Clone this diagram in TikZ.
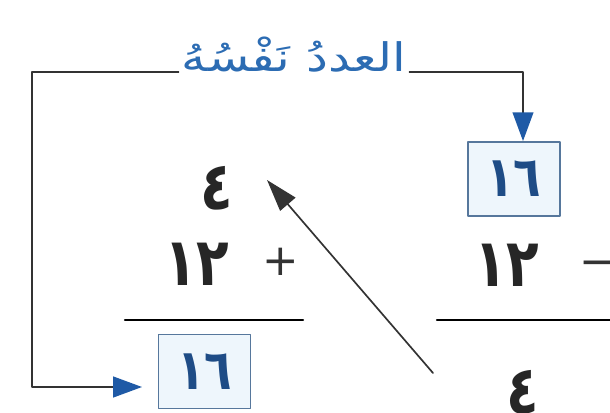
\documentclass[tikz,border=0pt]{standalone}
\usepackage{fontspec}
\usetikzlibrary{arrows.meta}
\newfontfamily\arabicfont[Script=Arabic]{DejaVu Sans}
\TeXXeTstate=1
\definecolor{LoopBlue}{HTML}{1F5AA6}
\definecolor{LabelBlue}{HTML}{2C6CB3}
\definecolor{BoxEdge}{HTML}{56779C}
\definecolor{BoxFill}{HTML}{EEF6FC}
\definecolor{DigitBlue}{HTML}{1E4C86}
\definecolor{LineGrey}{HTML}{333333}
\newcommand{\tallnum}[1]{\scalebox{1}[1.25]{#1}}

\begin{document}
\begin{tikzpicture}[x=0.025cm,y=-0.025cm,line cap=round,line join=round,
  digit/.style={font=\arabicfont\bfseries\fontsize{38}{44}\selectfont,text=black!85,inner sep=0pt},
  sign/.style={font=\arabicfont\fontsize{31}{36}\selectfont,text=black!80,inner sep=0pt},
  numbox/.style={draw=BoxEdge,fill=BoxFill,line width=1.3pt,minimum width=2.3cm,minimum height=1.85cm,
    text=DigitBlue,font=\arabicfont\bfseries\fontsize{32}{36}\selectfont,inner sep=0pt},
  loop/.style={LineGrey,line width=1.2pt,-{Triangle[length=0.72cm,width=0.52cm,color=LoopBlue]}}]
  \useasboundingbox (0,0) rectangle (610,413);
  % label and the two boxes
  \node[anchor=base,text=LabelBlue,font=\arabicfont\fontsize{28}{32}\selectfont,inner sep=2pt] (same) at (294,72) {\scalebox{1.25}[1]{\beginR العددُ نَفْسُهُ\endR}};
  \node[numbox] (topbox) at (514,179) {\tallnum{١٦}};
  \node[numbox] (sumbox) at (204.5,371.5) {\tallnum{١٦}};
  \coordinate (tr) at (523,72);\coordinate (tl) at (32,72);\coordinate (bl) at (32,387);\coordinate (lin) at (142,387);
  \draw[loop] (same.base east) -- (tr) -- (tr |- topbox.north);
  \draw[loop] (same.base west) -- (tl) -- (bl) -- (lin);
  % left sum
  \node[digit] (lfour) at (217,188) {\tallnum{٤}};
  \node[digit] (ltwelve) at (197,264) {\tallnum{١٢}};
  \node[sign] (plus) at (281,262) {+};
  \coordinate (lr1) at (125,320);\coordinate (lr2) at (303,320);
  \draw[line width=1.6pt] (lr1) -- (lr2);
  % right difference
  \node[digit] (rtwelve) at (507,265) {\tallnum{١٢}};
  \node[sign] (minus) at (598,269) {−};
  \node[digit] (rfour) at (523,392) {\tallnum{٤}};
  \coordinate (rr1) at (437,320);\coordinate (rr2) at (610,320);
  \draw[line width=1.6pt] (rr1) -- (rr2);
  % pointer back to the first four
  \coordinate (ptail) at (433,373);\coordinate (ptip) at (267,180);
  \draw[LineGrey,line width=1.2pt,-{Triangle[length=0.8cm,width=0.5cm]}] (ptail) -- (ptip);
\end{tikzpicture}
\end{document}
